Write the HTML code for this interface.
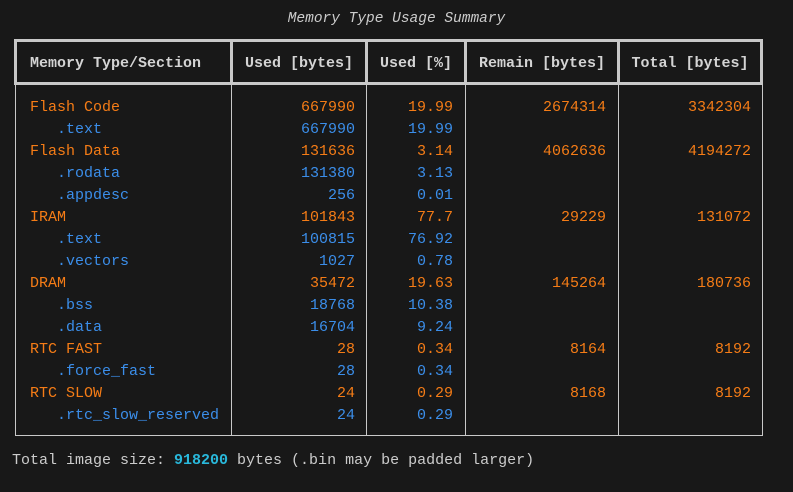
<!DOCTYPE html>
<html><head><meta charset="utf-8"><style>
body{margin:0;width:793px;height:492px;background:#181818;overflow:hidden;position:relative;font-family:"Liberation Mono","DejaVu Sans Mono",monospace;font-size:15px}
div{position:absolute;white-space:pre}
.l{background:#c8c8c8}
.o{color:#f57c16}.b{color:#3b8eea}
.r{text-align:right}
.h{color:#d4d4d4;font-weight:bold;top:54px;line-height:20px}
</style></head><body>
<div style="left:0;width:793px;text-align:center;top:11px;color:#cccccc;font-style:italic;font-size:14.5px">Memory Type Usage Summary</div>
<div style="left:14px;top:39px;width:743px;height:40px;border:3px solid #c8c8c8"></div>
<div class="l" style="left:230px;top:39px;width:3px;height:46px"></div>
<div class="l" style="left:365px;top:39px;width:3px;height:46px"></div>
<div class="l" style="left:464px;top:39px;width:3px;height:46px"></div>
<div class="l" style="left:617px;top:39px;width:3px;height:46px"></div>
<div class="h" style="left:30px">Memory Type/Section</div>
<div class="h r" style="left:233px;width:132px;text-align:center">Used [bytes]</div>
<div class="h" style="left:368px;width:96px;text-align:center">Used [%]</div>
<div class="h" style="left:467px;width:150px;text-align:center">Remain [bytes]</div>
<div class="h" style="left:620px;width:140px;text-align:center">Total [bytes]</div>
<div class="l" style="left:15px;top:85px;width:1px;height:351px"></div>
<div class="l" style="left:762px;top:85px;width:1px;height:351px"></div>
<div class="l" style="left:231px;top:85px;width:1px;height:351px"></div>
<div class="l" style="left:366px;top:85px;width:1px;height:351px"></div>
<div class="l" style="left:465px;top:85px;width:1px;height:351px"></div>
<div class="l" style="left:618px;top:85px;width:1px;height:351px"></div>
<div class="l" style="left:15px;top:435px;width:748px;height:1px"></div>
<div id="rows"></div>
<div style="left:12px;top:452px;color:#cccccc">Total image size: <b style="color:#29b8db">918200</b> bytes (.bin may be padded larger)</div>
<script>
const names=["Flash Code","   .text","Flash Data","   .rodata","   .appdesc","IRAM","   .text","   .vectors","DRAM","   .bss","   .data","RTC FAST","   .force_fast","RTC SLOW","   .rtc_slow_reserved"];
const used=["667990","667990","131636","131380","256","101843","100815","1027","35472","18768","16704","28","28","24","24"];
const pct=["19.99","19.99","3.14","3.13","0.01","77.7","76.92","0.78","19.63","10.38","9.24","0.34","0.34","0.29","0.29"];
const remain=["2674314","","4062636","","","29229","","","145264","","","8164","","8168",""];
const total=["3342304","","4194272","","","131072","","","180736","","","8192","","8192",""];
const host=document.getElementById('rows');
function cell(txt,cls,left,width,top,name){
  const d=document.createElement('div');
  d.className=cls;d.textContent=txt;
  d.style.left=left+'px';if(width)d.style.width=width+'px';
  d.style.top=top+'px';d.style.lineHeight='22px';
  
  
  host.appendChild(d);
}
names.forEach((n,i)=>{
  const c=n.startsWith(' ')?'b':'o';
  const t=97+i*22;
  cell(n,c,30,0,t,'row-name');
  cell(used[i],c+' r',240,115,t,'row-used-bytes');
  cell(pct[i],c+' r',370,83,t,'row-used-pct');
  cell(remain[i],c+' r',470,136,t,'row-remain');
  cell(total[i],c+' r',620,131,t,'row-total');
});
</script>
</body></html>
